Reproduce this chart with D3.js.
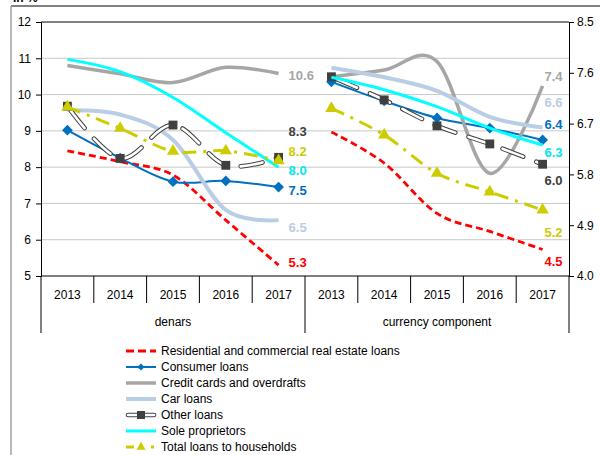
<!DOCTYPE html>
<html>
<head>
<meta charset="utf-8">
<script src="https://cdn.jsdelivr.net/npm/d3@7"></script>
<style>
  body { margin: 0; background: #fff; }
  svg { font-family: "Liberation Sans", Arial, sans-serif; }
</style>
</head>
<body>
<svg id="chart" width="600" height="455"></svg>
<script>
const years = ["2013", "2014", "2015", "2016", "2017"];
const groups = ["denars", "currency component"];
const leftTicks = [5, 6, 7, 8, 9, 10, 11, 12];
const rightTicks = [4.0, 4.9, 5.8, 6.7, 7.6, 8.5];

// denars -> left axis, currency component -> right axis
const resDen = [8.45, 8.15, 7.78, 6.54, 5.3];
const resCur = [6.55, 6.0, 5.11, 4.79, 4.47];
const conDen = [9.02, 8.25, 7.6, 7.62, 7.45];
const conCur = [7.44, 7.1, 6.8, 6.62, 6.41];
const credDen = [10.8, 10.57, 10.33, 10.75, 10.58];
const credCur = [7.53, 7.65, 7.8, 5.82, 7.37];
const carDen = [9.57, 9.45, 8.75, 6.82, 6.54];
const carCur = [7.69, 7.52, 7.28, 6.82, 6.63];
const othDen = [9.68, 8.24, 9.16, 8.05, 8.27];
const othCur = [7.53, 7.12, 6.66, 6.34, 5.98];
const soleDen = [10.97, 10.63, 9.92, 8.95, 8.0];
const soleCur = [7.52, 7.3, 7.0, 6.62, 6.32];
const totDen = [9.66, 9.07, 8.44, 8.45, 8.18];
const totCur = [6.97, 6.5, 5.82, 5.49, 5.17];

const labelsDen = ["5.3", "7.5", "10.6", "6.5", "8.3", "8.0", "8.2"];
const labelsCur = ["4.5", "6.4", "7.4", "6.6", "6.0", "6.3", "5.2"];

const series = [
  {name: "Residential and commercial real estate loans", den: resDen, cur: resCur, color: "#ff0000", width: 2.8, dash: "7,4", dyL: -3, dyR: 12},
  {name: "Consumer loans", den: conDen, cur: conCur, color: "#0070c0", width: 2, marker: "diamond", dyL: 3, dyR: -16},
  {name: "Credit cards and overdrafts", den: credDen, cur: credCur, color: "#a6a6a6", width: 3.5, dyL: 2, dyR: -9},
  {name: "Car loans", den: carDen, cur: carCur, color: "#b9cde5", width: 4, dyL: 7, dyR: -25},
  {name: "Other loans", den: othDen, cur: othCur, color: "#404040", width: 5, hollow: true, marker: "square", dyL: -26, dyR: 16},
  {name: "Sole proprietors", den: soleDen, cur: soleCur, color: "#00ffff", width: 3, dyL: 3, dyR: 7},
  {name: "Total loans to households", den: totDen, cur: totCur, color: "#cccc00", width: 3, dash: "14,7,3,7", marker: "triangle", dyL: -9, dyR: 22}
];
series.forEach((s, i) => { s.labelL = labelsDen[i]; s.labelR = labelsCur[i]; });

const svg = d3.select("#chart");
const pLeft = 41, pRight = 569, pTop = 22, pBottom = 276;

// outer frame
svg.append("line").attr("x1", 11).attr("x2", 600).attr("y1", 6).attr("y2", 6).attr("stroke", "#000");
svg.append("line").attr("x1", 11).attr("x2", 11).attr("y1", 6).attr("y2", 455).attr("stroke", "#a0a0a0").attr("stroke-width", 1.5);
svg.append("text").attr("x", 13).attr("y", 2).style("font-size", "12px").style("font-weight", "bold").text("in %");

const keys = [];
groups.forEach(g => years.forEach(y => keys.push(g + "|" + y)));
const x = d3.scaleBand().domain(keys).range([pLeft, pRight]);
const cx = k => x(k) + x.bandwidth() / 2;

const yL = d3.scaleLinear().domain([5, 12]).range([pBottom, pTop]);
const yR = d3.scaleLinear().domain([4, 8.5]).range([pBottom, pTop]);

// gridlines
svg.append("g").selectAll("line")
  .data(leftTicks.filter(d => d > 5 && d < 12))
  .enter().append("line")
  .attr("x1", pLeft).attr("x2", pRight)
  .attr("y1", d => yL(d)).attr("y2", d => yL(d))
  .attr("stroke", "#c8c8c8").attr("stroke-width", 1);

svg.append("line").attr("x1", pLeft).attr("x2", pRight).attr("y1", pTop).attr("y2", pTop).attr("stroke", "#000");

// axes
const axL = svg.append("g").attr("transform", `translate(${pLeft},0)`)
  .call(d3.axisLeft(yL).tickValues(leftTicks).tickSize(5).tickPadding(5).tickFormat(d3.format("d")));
const axR = svg.append("g").attr("transform", `translate(${pRight},0)`)
  .call(d3.axisRight(yR).tickValues(rightTicks).tickSize(5).tickPadding(3).tickFormat(d3.format(".1f")));
[axL, axR].forEach(a => {
  a.selectAll("text").style("font-size", "12px").attr("fill", "#000").style("font-family", "Liberation Sans, Arial, sans-serif");
  a.selectAll("line, path").attr("stroke", "#000");
});

// category axis
svg.append("line").attr("x1", pLeft).attr("x2", pRight).attr("y1", pBottom).attr("y2", pBottom).attr("stroke", "#000").attr("stroke-width", 1.2);
const edges = keys.map(k => x(k)).concat([pRight]);
svg.append("g").selectAll("line").data(edges).enter().append("line")
  .attr("x1", d => d).attr("x2", d => d)
  .attr("y1", pBottom)
  .attr("y2", (d, i) => (i % years.length === 0) ? 333 : 303)
  .attr("stroke", "#000");
svg.append("g").selectAll("text").data(keys).enter().append("text")
  .attr("x", d => cx(d)).attr("y", 299)
  .attr("text-anchor", "middle").style("font-size", "12px")
  .text(d => d.split("|")[1]);
svg.append("g").selectAll("text").data(groups).enter().append("text")
  .attr("x", g => (x(g + "|" + years[0]) + x(g + "|" + years[years.length - 1]) + x.bandwidth()) / 2)
  .attr("y", 326)
  .attr("text-anchor", "middle").style("font-size", "12px")
  .text(d => d);

const plot = svg.append("g");

function markerPath(type, size) {
  if (type === "diamond") return d3.symbol().type(d3.symbolDiamond2).size(size * size * 0.9)();
  if (type === "square") return d3.symbol().type(d3.symbolSquare2).size(size * size)();
  if (type === "triangle") return d3.symbol().type(d3.symbolTriangle2).size(size * size * 0.75)();
  return null;
}
const markerSize = {diamond: 9, square: 10, triangle: 12};

series.forEach(s => {
  [[groups[0], s.den, yL], [groups[1], s.cur, yR]].forEach(([g, vals, ys]) => {
    const pts = vals.map((v, i) => [cx(g + "|" + years[i]), ys(v)]);
    const line = d3.line().curve(d3.curveCardinal.tension(0));
    if (s.hollow) {
      plot.append("path").attr("d", line(pts)).attr("fill", "none")
        .attr("stroke", s.color).attr("stroke-width", 4.6)
        .attr("stroke-dasharray", "22,14").attr("stroke-dashoffset", -6).attr("stroke-linecap", "round");
      plot.append("path").attr("d", line(pts)).attr("fill", "none")
        .attr("stroke", "#fff").attr("stroke-width", 2.6)
        .attr("stroke-dasharray", "22,14").attr("stroke-dashoffset", -6).attr("stroke-linecap", "round");
    } else {
      plot.append("path").attr("d", line(pts)).attr("fill", "none")
        .attr("stroke", s.color).attr("stroke-width", s.width)
        .attr("stroke-dasharray", s.dash || null);
    }
    if (s.marker) {
      plot.append("g").selectAll("path").data(pts).enter().append("path")
        .attr("transform", d => `translate(${d[0]},${d[1]})`)
        .attr("d", markerPath(s.marker, markerSize[s.marker]))
        .attr("fill", s.color);
    }
  });
});

// end-of-series value labels
const lastL = cx(groups[0] + "|" + years[4]);
const lastR = cx(groups[1] + "|" + years[4]);
series.forEach(s => {
  const colr = s.color === "#00ffff" ? "#00e5f0" : s.color;
  svg.append("text").attr("x", lastL + 10).attr("y", yL(s.den[4]) + s.dyL).attr("dy", "0.35em")
    .style("font-size", "13px").style("font-weight", "bold").attr("fill", colr).text(s.labelL);
  svg.append("text").attr("x", lastR + 20).attr("y", yR(s.cur[4]) + s.dyR).attr("dy", "0.35em")
    .attr("text-anchor", "end")
    .style("font-size", "13px").style("font-weight", "bold").attr("fill", colr).text(s.labelR);
});

// legend
const leg = svg.append("g");
series.forEach((s, i) => {
  const ly = 351 + i * 16;
  const g = leg.append("g");
  if (s.hollow) {
    g.append("line").attr("x1", 128).attr("x2", 154).attr("y1", ly).attr("y2", ly)
      .attr("stroke", s.color).attr("stroke-width", 4.6).attr("stroke-linecap", "round");
    g.append("line").attr("x1", 128).attr("x2", 154).attr("y1", ly).attr("y2", ly)
      .attr("stroke", "#fff").attr("stroke-width", 2.6).attr("stroke-linecap", "round");
  } else if (s.marker === "triangle") {
    g.append("line").attr("x1", 126).attr("x2", 134).attr("y1", ly).attr("y2", ly)
      .attr("stroke", s.color).attr("stroke-width", s.width);
    g.append("line").attr("x1", 151).attr("x2", 154).attr("y1", ly).attr("y2", ly)
      .attr("stroke", s.color).attr("stroke-width", s.width);
  } else {
    g.append("line").attr("x1", 126).attr("x2", 156).attr("y1", ly).attr("y2", ly)
      .attr("stroke", s.color).attr("stroke-width", s.width)
      .attr("stroke-dasharray", s.dash ? "8,4" : null);
  }
  if (s.marker) {
    const sz = s.marker === "diamond" ? 6 : 9;
    g.append("path").attr("transform", `translate(141,${ly})`)
      .attr("d", markerPath(s.marker, sz)).attr("fill", s.color);
  }
  g.append("text").attr("x", 161).attr("y", ly).attr("dy", "0.35em")
    .style("font-size", "12px").text(s.name);
});
</script>
</body>
</html>
